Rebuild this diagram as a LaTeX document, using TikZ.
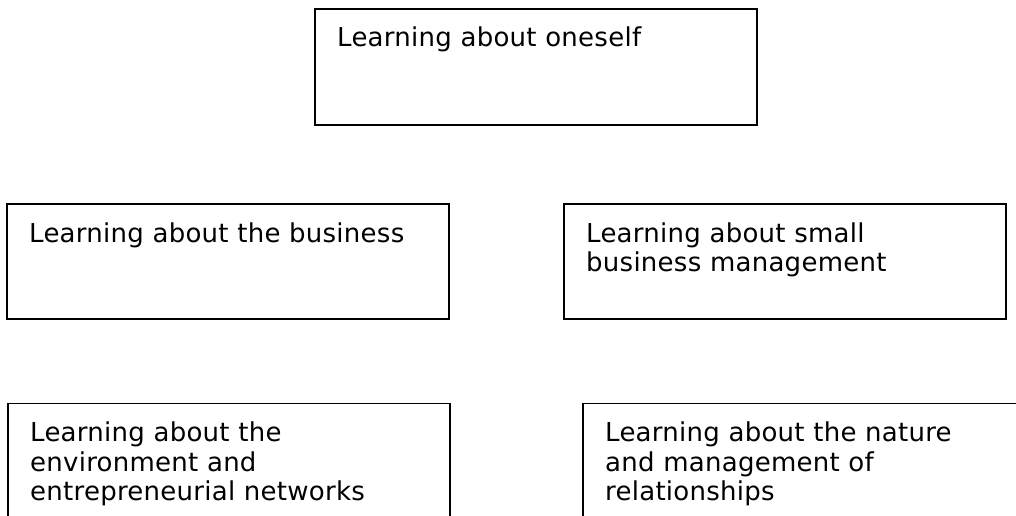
\documentclass[tikz,border=0pt]{standalone}
\usepackage{fontspec}
\setmainfont{DejaVu Sans}[LetterSpace=1]
\begin{document}
\begin{tikzpicture}[x=1pt,y=-1pt,
  box/.style={draw, line width=1.8pt, rectangle, minimum width=442pt,
    minimum height=115pt, anchor=north west, inner sep=0pt, outer sep=0pt},
  caption/.style={anchor=base west, inner sep=0pt, align=left,
    text width=420pt, font=\fontsize{26}{29.5}\selectfont}]
\useasboundingbox (0,0) rectangle (1016,515);
\clip (0,0) rectangle (1016,515);

% top box
\node[box, minimum height=116pt] (self) at (315,9) {};
\node[caption] (selfT) at ([shift={(22,37.5)}]self.north west)
  {Learning about oneself};

% middle row
\node[box] (biz) at (7,204) {};
\node[caption] (bizT) at ([shift={(22,38)}]biz.north west)
  {Learning about the business};

\node[box] (mgmt) at (564,204) {};
\node[caption] (mgmtT) at ([shift={(22,38)}]mgmt.north west)
  {Learning about small\\business management};

% bottom row (boxes run past the page edge)
\node[box] (env) at (8,403.5) {};
\node[caption] (envT) at ([shift={(22,38)}]env.north west)
  {Learning about the\\environment and\\entrepreneurial networks};

\node[box] (rel) at (583,403.5) {};
\node[caption] (relT) at ([shift={(22,38)}]rel.north west)
  {Learning about the nature\\and management of\\relationships};
\end{tikzpicture}
\end{document}
